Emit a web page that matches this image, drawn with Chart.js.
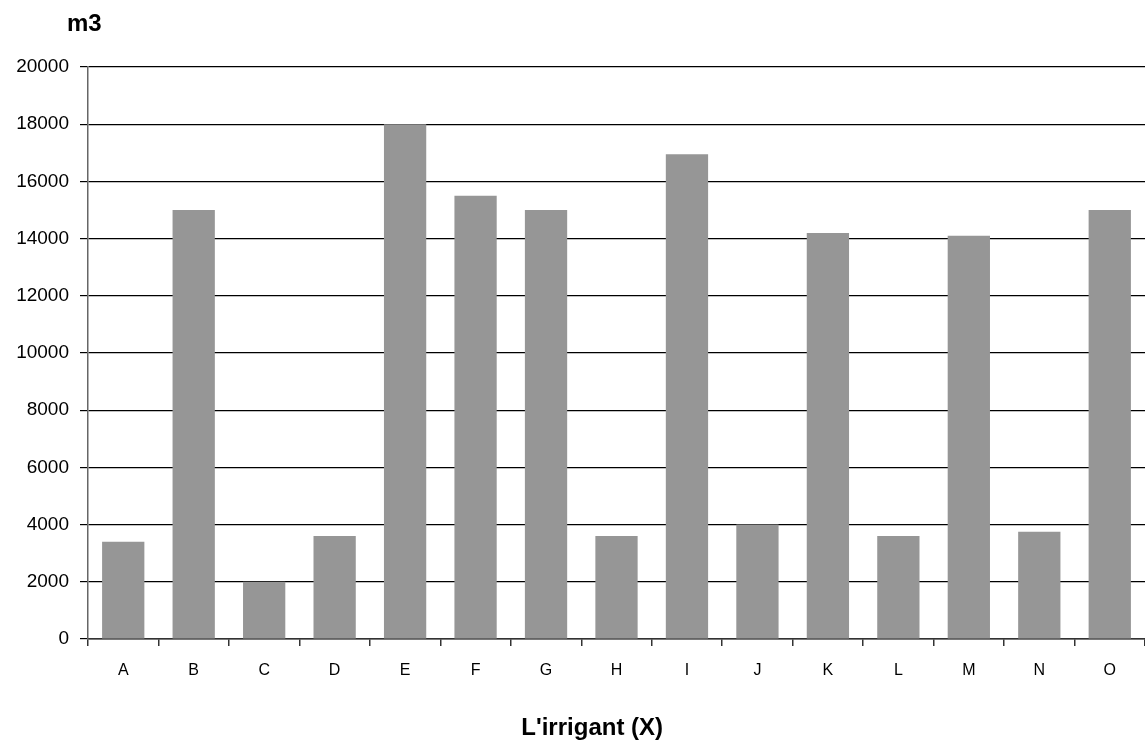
<!DOCTYPE html>
<html>
<head>
<meta charset="utf-8">
<script src="https://cdn.jsdelivr.net/npm/chart.js@4"></script>
<style>
  html, body { margin: 0; padding: 0; background: #fff; }
  #wrap { width: 1145px; height: 747px; position: relative; }
</style>
</head>
<body>
<div id="wrap"><canvas id="irrigChart"></canvas></div>
<script>
const categories = ["A","B","C","D","E","F","G","H","I","J","K","L","M","N","O"];
const volumes = [3400, 15000, 2000, 3600, 18000, 15500, 15000, 3600, 16950, 4000, 14200, 3600, 14100, 3750, 15000];
const yTicks = [0, 2000, 4000, 6000, 8000, 10000, 12000, 14000, 16000, 18000, 20000];
const yTitle = "m3";
const xTitle = "L'irrigant (X)";

// draw the two axis titles where the original had them
const titlesPlugin = {
  id: "titles",
  afterDraw(chart) {
    const ctx = chart.ctx;
    const area = chart.chartArea;
    ctx.save();
    ctx.fillStyle = "#000";
    ctx.textBaseline = "middle";
    ctx.font = "bold 24px 'Liberation Sans', Arial, sans-serif";
    ctx.textAlign = "left";
    ctx.fillText(yTitle, area.left - 21, 24);
    ctx.textAlign = "center";
    ctx.fillText(xTitle, area.left + (area.right - area.left) * 0.477, 728);
    ctx.restore();
  }
};

new Chart(document.getElementById("irrigChart"), {
  type: "bar",
  data: {
    labels: categories,
    datasets: [{
      label: yTitle,
      data: volumes,
      backgroundColor: "#969696",
      borderWidth: 0,
      barPercentage: 0.6,
      categoryPercentage: 1.0
    }]
  },
  options: {
    responsive: true,
    maintainAspectRatio: false,
    animation: false,
    layout: { padding: { top: 67, left: 0, right: 0, bottom: 0 } },
    plugins: {
      legend: { display: false },
      tooltip: { enabled: false }
    },
    scales: {
      x: {
        grid: {
          offset: true,
          drawOnChartArea: false,
          drawTicks: true,
          tickLength: 7,
          tickColor: "#333",
          lineWidth: 1.5
        },
        border: { color: "#333", width: 1.5 },
        ticks: {
          color: "#000",
          padding: 15,
          font: { family: "'Liberation Sans', Arial, sans-serif", size: 16 }
        },
        afterFit(scale) { scale.height = 108; }
      },
      y: {
        min: 0,
        max: 20000,
        afterBuildTicks(scale) { scale.ticks = yTicks.map(v => ({ value: v })); },
        grid: {
          color: "#000",
          lineWidth: 1.2,
          tickLength: 8,
          tickColor: "#000"
        },
        border: { color: "#666", width: 1.5 },
        ticks: {
          color: "#000",
          padding: 11,
          font: { family: "'Liberation Sans', Arial, sans-serif", size: 19 },
          callback: (v) => String(v)
        },
        afterFit(scale) { scale.width = 88; }
      }
    }
  },
  plugins: [titlesPlugin]
});
</script>
</body>
</html>
